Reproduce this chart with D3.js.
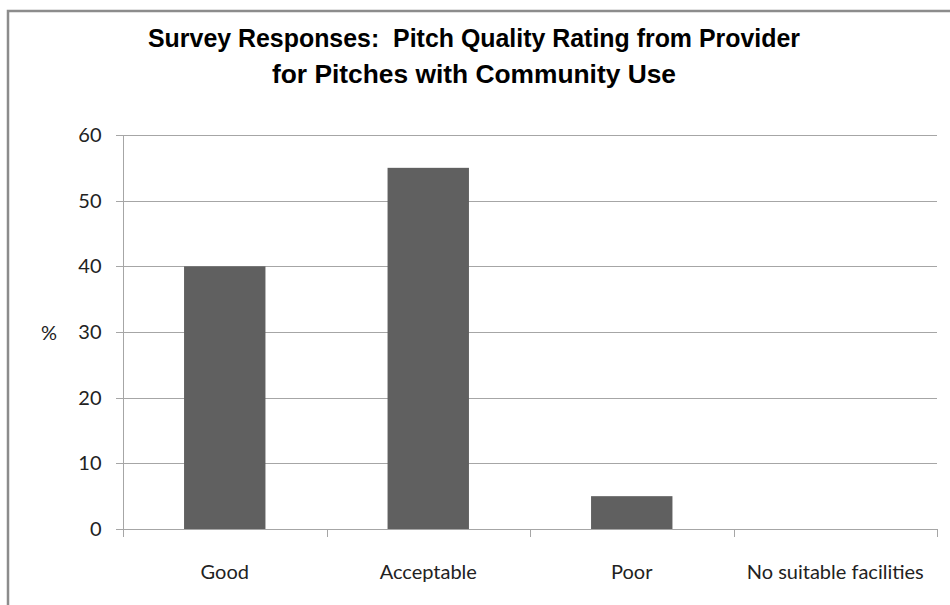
<!DOCTYPE html>
<html>
<head>
<meta charset="utf-8">
<script src="https://cdn.jsdelivr.net/npm/d3@7"></script>
<style>
  html, body { margin: 0; padding: 0; background: #fff; }
  svg { display: block; }
</style>
</head>
<body>
<svg id="chart" width="950" height="605"></svg>
<script>
// Survey results: percentage of providers giving each pitch quality rating
const categories = ["Good", "Acceptable", "Poor", "No suitable facilities"];
const percentages = [40, 55, 5, 0];
const yTicks = [0, 10, 20, 30, 40, 50, 60];
const titleLines = [
  "Survey Responses:  Pitch Quality Rating from Provider",
  "for Pitches with Community Use"
];
const titleWidths = [652, 404];

const svg = d3.select("#chart");
const W = 950, H = 605;

const plot = { left: 123, right: 937, top: 135, bottom: 529 };

// Chart area frame (open towards the right and bottom edges)
svg.append("path")
  .attr("d", `M8,${H} L8,11 L${W},11`)
  .attr("fill", "none")
  .attr("stroke", "#8c8c8c")
  .attr("stroke-width", 2.5);

// Title, condensed bold
svg.append("g")
  .selectAll("text")
  .data(titleLines)
  .join("text")
  .attr("x", 474)
  .attr("y", (d, i) => 47 + i * 36)
  .attr("text-anchor", "middle")
  .attr("font-family", "'Liberation Sans Narrow', 'Liberation Sans', Arial, sans-serif")
  .attr("font-size", 26)
  .attr("font-weight", "bold")
  .attr("textLength", (d, i) => titleWidths[i])
  .attr("lengthAdjust", "spacingAndGlyphs")
  .style("white-space", "pre")
  .attr("fill", "#000")
  .text(d => d);

const x = d3.scaleBand()
  .domain(categories)
  .range([plot.left, plot.right])
  .paddingInner(0.6)
  .paddingOuter(0.3);

const y = d3.scaleLinear()
  .domain([0, 60])
  .range([plot.bottom, plot.top]);

const gridColor = "#a6a6a6";

// Horizontal gridlines with the left tick marks
svg.append("g")
  .selectAll("line")
  .data(yTicks)
  .join("line")
  .attr("x1", plot.left - 7)
  .attr("x2", plot.right)
  .attr("y1", d => Math.round(y(d)) + 0.5)
  .attr("y2", d => Math.round(y(d)) + 0.5)
  .attr("stroke", gridColor)
  .attr("stroke-width", 1);

// Bars
svg.append("g")
  .selectAll("rect")
  .data(categories.map((c, i) => ({ c, v: percentages[i] })))
  .join("rect")
  .attr("x", d => x(d.c))
  .attr("width", x.bandwidth())
  .attr("y", d => y(d.v))
  .attr("height", d => y(0) - y(d.v))
  .attr("fill", "#606060");

// Y axis
const yAxis = svg.append("g")
  .attr("transform", `translate(${plot.left + 0.5},0)`)
  .call(d3.axisLeft(y).tickValues(yTicks).tickSize(0).tickPadding(22));
yAxis.select(".domain")
  .attr("d", `M0,${plot.top}V${plot.bottom + 8}`)
  .attr("stroke", gridColor);
yAxis.selectAll("text")
  .attr("font-family", "Lato, 'Open Sans', sans-serif")
  .attr("font-size", 20)
  .attr("fill", "#222");

// X axis: boundary ticks between categories
const step = (plot.right - plot.left) / categories.length;
svg.append("g")
  .selectAll("line")
  .data(d3.range(1, categories.length + 1))
  .join("line")
  .attr("x1", i => Math.round(plot.left + i * step) + 0.5)
  .attr("x2", i => Math.round(plot.left + i * step) + 0.5)
  .attr("y1", plot.bottom)
  .attr("y2", plot.bottom + 8)
  .attr("stroke", gridColor);

// Category labels
svg.append("g")
  .selectAll("text")
  .data(categories)
  .join("text")
  .attr("x", d => x(d) + x.bandwidth() / 2)
  .attr("y", 579)
  .attr("text-anchor", "middle")
  .attr("font-family", "Lato, 'Open Sans', sans-serif")
  .attr("font-size", 20)
  .attr("fill", "#222")
  .text(d => d);

// Y axis title
svg.append("text")
  .attr("x", 49)
  .attr("y", 340)
  .attr("text-anchor", "middle")
  .attr("font-family", "Lato, 'Open Sans', sans-serif")
  .attr("font-size", 20)
  .attr("fill", "#222")
  .text("%");
</script>
</body>
</html>
